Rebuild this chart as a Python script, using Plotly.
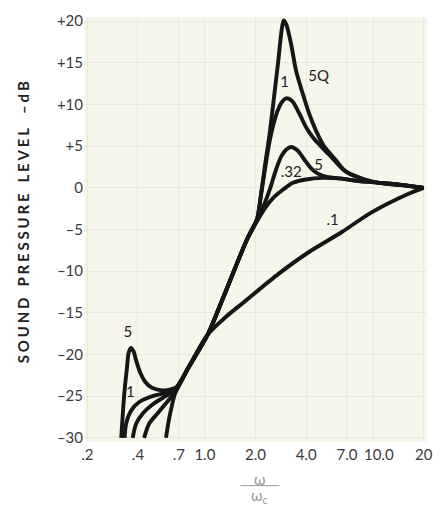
import plotly.graph_objects as go

# frequency ratio w/wc (log axis) and level in dB
q5_x = [0.318, 0.326, 0.333, 0.344, 0.352, 0.363, 0.376, 0.391, 0.413, 0.442, 0.485, 0.555, 0.627, 0.679,
        0.797, 1.04, 1.22, 1.48, 1.78, 2.04, 2.15, 2.30, 2.42, 2.55, 2.73, 2.86, 2.94, 3.05, 3.26, 3.49,
        3.82, 4.17, 4.57, 5.11, 5.97, 6.84, 8.9, 11.7, 15.2, 20]
q5_y = [-30, -26.7, -24.3, -21.6, -19.8, -19.2, -19.6, -20.8, -22.2, -23.3, -24.0, -24.3, -24.2, -23.9,
        -21.6, -17.6, -14.3, -10.1, -6.2, -3.8, -1.0, 3.3, 6.3, 10.1, 15.2, 18.9, 20.1, 19.6, 17.2, 14.0,
        11.3, 8.9, 6.9, 5.0, 3.4, 2.0, 1.0, 0.5, 0.3, 0]

q1_x = [0.333, 0.340, 0.365, 0.407, 0.488, 0.583, 0.667, 0.797, 1.04, 1.22, 1.48, 1.78, 2.04, 2.15,
        2.30, 2.42, 2.55, 2.70, 2.85, 3.00, 3.15, 3.34, 3.65, 3.99, 4.37, 4.89, 5.71, 6.84, 8.9, 11.7,
        15.2, 20]
q1_y = [-30, -28.3, -26.7, -25.7, -25.0, -24.6, -24.1, -21.6, -17.6, -14.3, -10.1, -6.2, -3.8, -1.0,
        2.8, 5.5, 7.5, 9.2, 10.2, 10.7, 10.7, 10.3, 8.9, 7.3, 6.1, 5.0, 3.6, 2.0, 1.0, 0.5,
        0.3, 0]

q05_x = [0.372, 0.390, 0.426, 0.488, 0.583, 0.667, 0.797, 1.04, 1.22, 1.48, 1.78, 2.04, 2.25, 2.45,
         2.65, 2.85, 3.05, 3.26, 3.55, 3.90, 4.30, 4.70, 5.30, 6.50, 8.2, 12.8, 20]
q05_y = [-30, -28.3, -27.1, -26.0, -25.0, -24.3, -21.6, -17.6, -14.3, -10.1, -6.2, -3.8, -2.0, 0.0,
         2.2, 3.8, 4.6, 4.9, 4.5, 3.4, 2.3, 1.7, 1.3, 1.1, 0.8, 0.5, 0]

q032_x = [0.435, 0.466, 0.521, 0.596, 0.667, 0.797, 1.04, 1.22, 1.48, 1.78, 2.04, 2.30, 2.55, 2.92,
          3.34, 3.99, 5.0, 6.5, 8.2, 12.8, 20]
q032_y = [-30, -28.3, -27.1, -25.7, -24.5, -21.6, -17.6, -14.3, -10.1, -6.2, -4.0, -2.3, -1.2, -0.2,
          0.6, 1.0, 1.2, 1.1, 0.8, 0.5, 0]

q01_x = [0.587, 0.610, 0.637, 0.667, 0.797, 1.04, 1.33, 1.71, 2.67, 4.16, 6.53, 9.7, 15.9, 20]
q01_y = [-30, -27.9, -26.1, -24.6, -21.6, -17.6, -15.5, -13.7, -10.5, -7.7, -5.3, -3.0, -0.8, 0]

x_ticks = [0.2, 0.4, 0.7, 1, 2, 4, 7, 10, 20]
x_labels = [".2", ".4", ".7", "1.0", "2.0", "4.0", "7.0", "\u00a0\u00a0\u00a010.0", "20"]
y_ticks = [20, 15, 10, 5, 0, -5, -10, -15, -20, -25, -30]
y_labels = ["+20", "+15", "+10", "+5", "0", "–5", "–10", "–15", "–20", "–25", "–30"]

# curve labels: text, x, y
lab_text = ["5Q", "1", "5", ".32", ".1", "5", "1"]
lab_x = [4.75, 2.98, 4.75, 3.26, 5.75, 0.348, 0.360]
lab_y = [13.3, 12.6, 2.6, 1.8, -4.0, -17.4, -24.7]

INK = "#161616"
FONT = "Lato"
SP = "\u2009\u200a"  # thin + hair space for the spaced-out axis title
ytitle = SP.join("SOUND") + "   " + SP.join("PRESSURE") + "   " + SP.join("LEVEL") + "    " + SP.join("–dB")

fig = go.Figure()
for xs, ys in [(q01_x, q01_y), (q032_x, q032_y), (q05_x, q05_y), (q1_x, q1_y), (q5_x, q5_y)]:
    fig.add_trace(go.Scatter(x=xs, y=ys, mode="lines",
                             line=dict(color=INK, width=3.9, shape="spline", smoothing=0.8),
                             hoverinfo="skip", showlegend=False))

fig.add_trace(go.Scatter(x=lab_x, y=lab_y, mode="text", text=lab_text,
                         textfont=dict(family=FONT, size=15, color="#222"),
                         hoverinfo="skip", showlegend=False))

fig.update_layout(
    width=444, height=507,
    margin=dict(l=84, r=11, t=13, b=65),
    paper_bgcolor="white",
    plot_bgcolor="#f6f6ea",
    font=dict(family=FONT, color="#3a3a3a", size=15),
    xaxis=dict(type="log", range=[-0.719, 1.321], tickvals=x_ticks, ticktext=x_labels,
               tickangle=0, showline=False, zeroline=False, ticks="", ticklabeloverflow="allow",
               ticklabelstandoff=2, gridcolor="#e9e9da", gridwidth=1),
    yaxis=dict(range=[-30.5, 20.5], tickvals=y_ticks, ticktext=y_labels, ticklabeloverflow="allow",
               showline=False, zeroline=False, ticks="", ticklabelstandoff=0,
               gridcolor="#e9e9da", gridwidth=1),
)

# axis titles
fig.add_annotation(xref="paper", yref="paper", x=-0.178, y=0.517, xanchor="center", yanchor="middle",
                   text=ytitle, textangle=-90, showarrow=False,
                   font=dict(family=FONT, size=15, color="#222", weight="bold"))
fig.add_annotation(xref="paper", yref="paper", x=0.511, y=-0.086, xanchor="center", yanchor="middle",
                   text="ω", showarrow=False, font=dict(family=FONT, size=15, color="#999"))
fig.add_annotation(xref="paper", yref="paper", x=0.511, y=-0.128, xanchor="center", yanchor="middle",
                   text="ω<sub>c</sub>", showarrow=False, font=dict(family=FONT, size=15, color="#999"))
fig.add_shape(type="line", xref="paper", yref="paper", x0=0.456, x1=0.570, y0=-0.1026, y1=-0.1026,
              line=dict(color="#999", width=1))

# drop the default 8px page margin so the 444x507 figure fills the window exactly
fig.write_html("out.html", config={"displayModeBar": False},
               post_script="document.body.style.margin='0';document.body.style.overflow='hidden';")
